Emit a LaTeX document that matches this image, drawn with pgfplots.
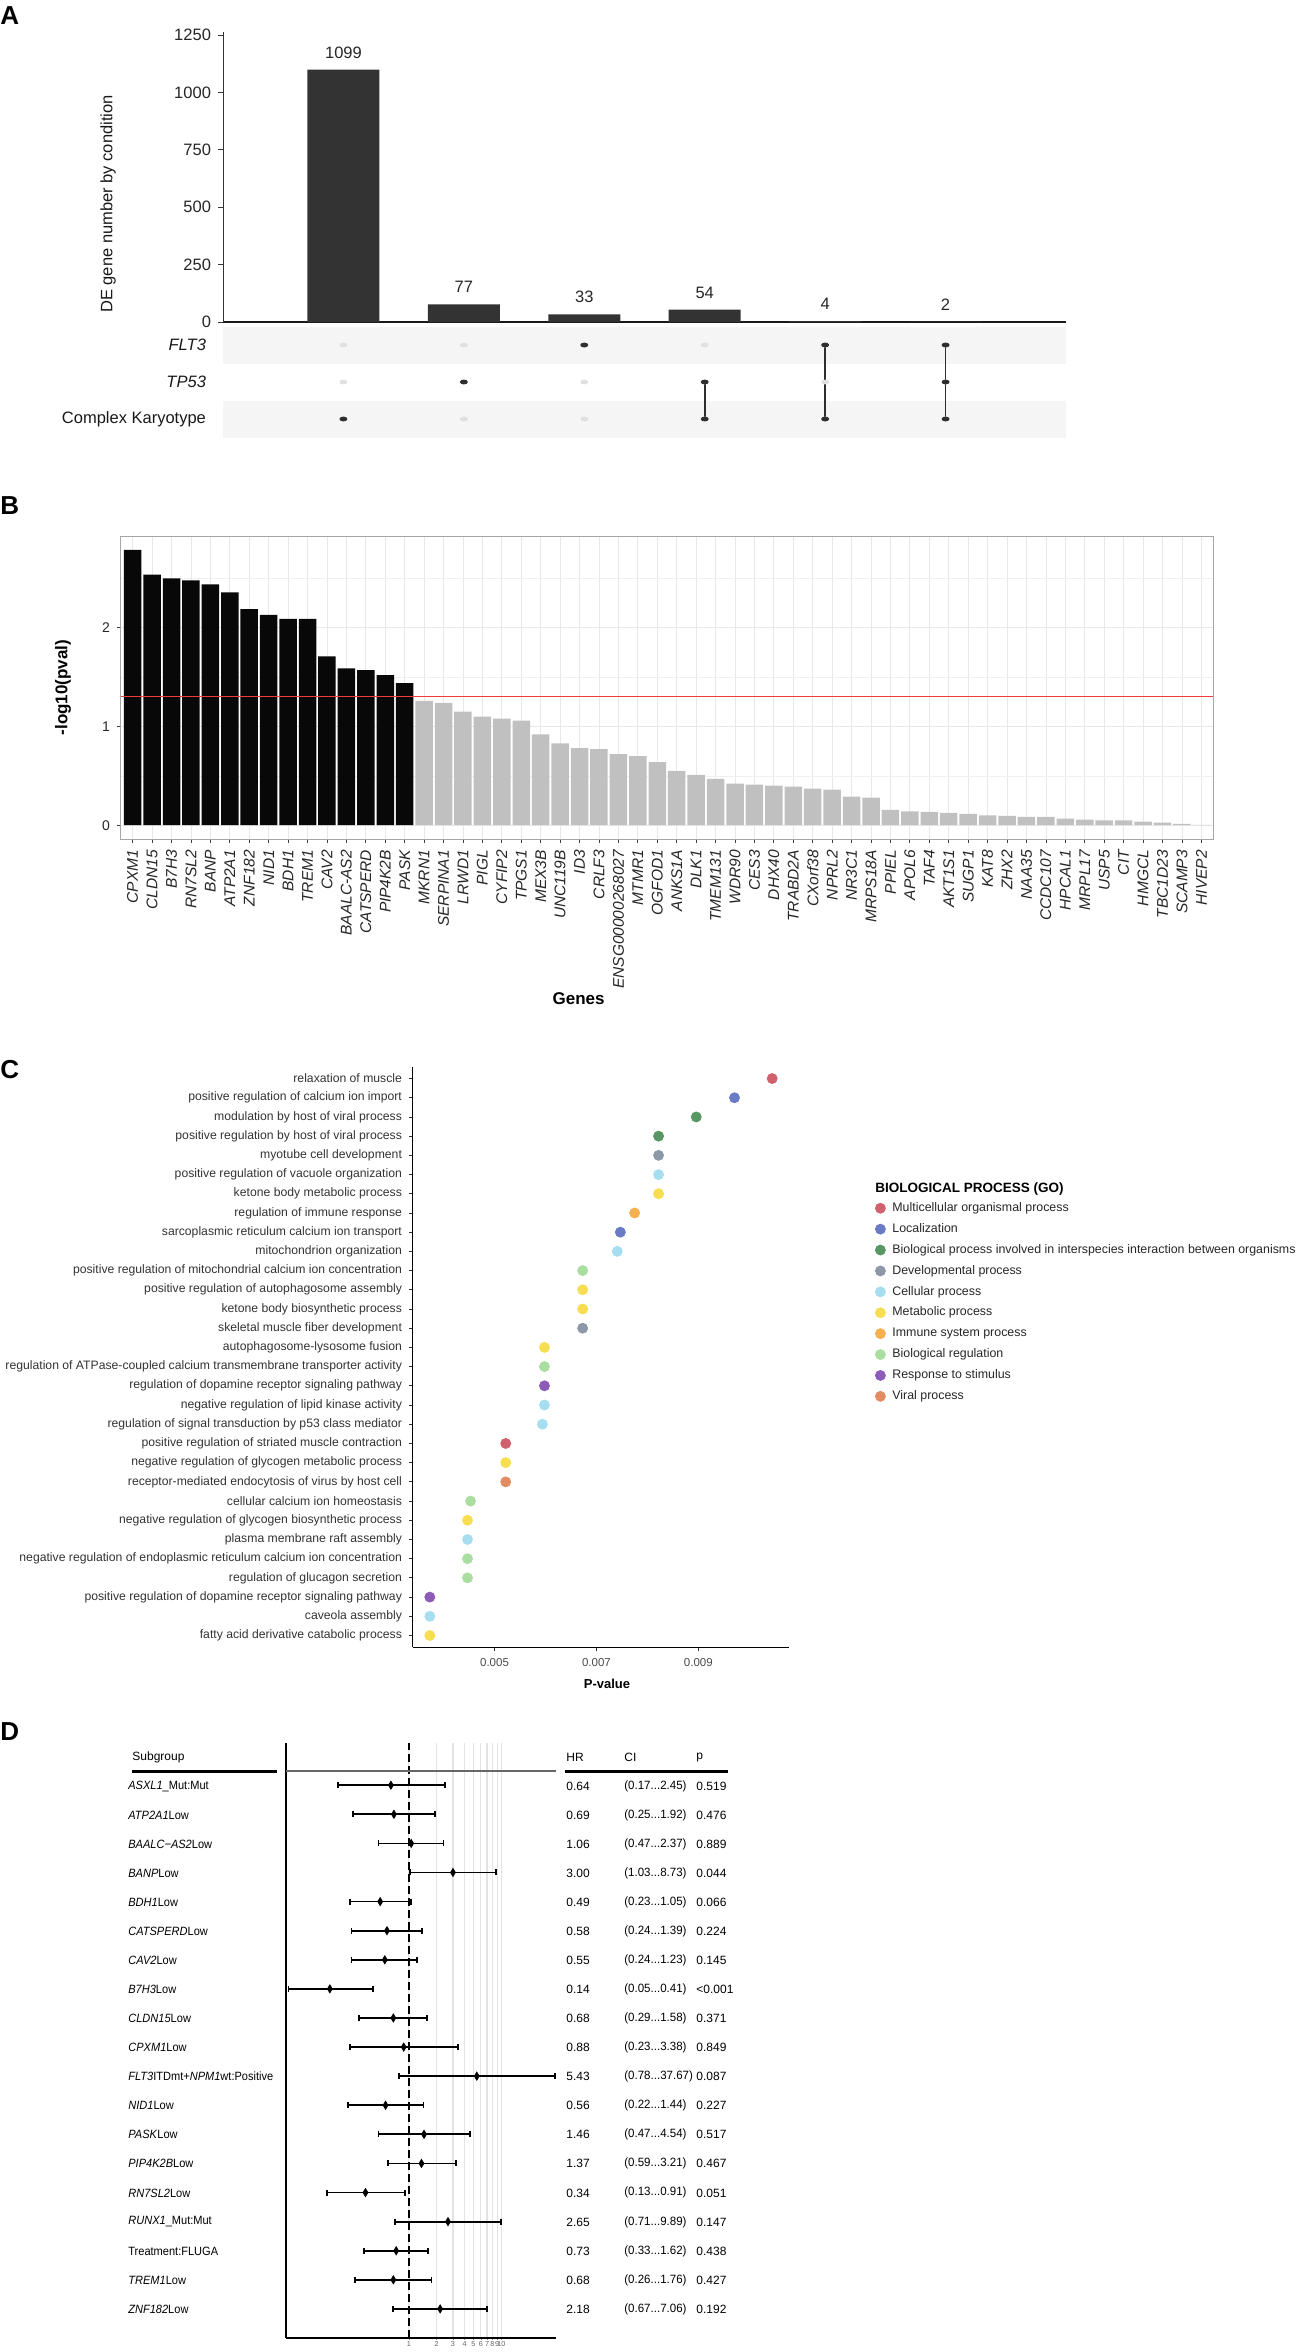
\documentclass[border=0pt]{standalone}
\usepackage{pgfplots}
\pgfplotsset{compat=1.18}
\usepackage{fontspec}
\setmainfont{Liberation Sans}
\newcommand{\fs}[1]{\fontsize{#1pt}{#1pt}\selectfont}
\newcommand{\dd}{...}

\definecolor{barA}{HTML}{333333}
\definecolor{bandgray}{HTML}{F5F5F5}
\definecolor{dotgray}{HTML}{E0E0E0}
\definecolor{dotdark}{HTML}{2E2E2E}
\definecolor{barGrey}{HTML}{C0C0C0}
\definecolor{redline}{HTML}{F03C3C}
\definecolor{cMulti}{RGB}{208,98,110}
\definecolor{cLoc}{RGB}{106,122,196}
\definecolor{cInter}{RGB}{88,150,100}
\definecolor{cDev}{RGB}{140,152,168}
\definecolor{cCell}{RGB}{166,222,240}
\definecolor{cMetab}{RGB}{246,222,80}
\definecolor{cImm}{RGB}{246,176,80}
\definecolor{cBioReg}{RGB}{170,222,160}
\definecolor{cResp}{RGB}{140,92,184}
\definecolor{cViral}{RGB}{226,140,100}

\begin{document}
\begin{tikzpicture}
\path[use as bounding box] (0,0) rectangle (650pt,-1176pt);

% ---- A: bar part of the upset plot
\begin{axis}[
  at={(111.5pt,-161pt)}, anchor=south west, scale only axis,
  width=421.5pt, height=145pt,
  xmin=0, xmax=7, ymin=0, ymax=1263,
  axis x line=bottom, axis y line=left, axis line style={-},
  x axis line style={line width=1pt, black!90},
  y axis line style={line width=0.4pt, black!80},
  xtick=\empty, ytick={0,250,500,750,1000,1250},
  tick align=outside, major tick length=2.5pt,
  tick style={black!80, line width=0.4pt},
  ticklabel style={font=\fs{8.25}, text=black!85},
  /pgf/number format/assume math mode=true,
  /pgf/number format/1000 sep={},
  ybar, bar width=36pt,
  nodes near coords,
  nodes near coords style={font=\fs{8.25}, text=black!85, inner sep=0pt, anchor=south, yshift=5.5pt},
  clip=false,
]
\addplot[fill=barA, draw=none] coordinates {(1,1099) (2,77) (3,33) (4,54) (5,4) (6,2)};
\end{axis}

% ---- A: matrix part
\begin{axis}[
  at={(111.5pt,-218.75pt)}, anchor=south west, scale only axis,
  width=421.5pt, height=55.5pt,
  xmin=0, xmax=7, ymin=0.5, ymax=3.5,
  axis line style={draw=none},
  xtick=\empty, ytick={1,2,3},
  yticklabels={Complex Karyotype,\textit{TP53},\textit{FLT3}},
  major tick length=0pt,
  yticklabel style={font=\fs{8.25}, text=black!90, xshift=-5pt},
]
\fill[bandgray] (axis cs:0,2.5) rectangle (axis cs:7,3.5);
\fill[bandgray] (axis cs:0,0.5) rectangle (axis cs:7,1.5);
\addplot[dotgray, only marks, mark=*, mark size=1pt, mark options={xscale=1.75, draw=dotgray, fill=dotgray}]
  coordinates {(1,1)(1,2)(1,3)(2,1)(2,2)(2,3)(3,1)(3,2)(3,3)(4,1)(4,2)(4,3)(5,1)(5,2)(5,3)(6,1)(6,2)(6,3)};
\addplot[dotdark, line width=0.8pt, mark=none, unbounded coords=jump]
  coordinates {(4,1)(4,2) (nan,nan) (5,1)(5,3) (nan,nan) (6,1)(6,3)};
\addplot[dotdark, only marks, mark=*, mark size=1pt, mark options={xscale=1.75, draw=dotdark, fill=dotdark}]
  coordinates {(1,1)(2,2)(3,3)(4,1)(4,2)(5,1)(5,3)(6,1)(6,2)(6,3)};
\end{axis}

% ---- B: -log10(pval) per gene
\begin{axis}[
  at={(60.5pt,-419.5pt)}, anchor=south west, scale only axis,
  width=546pt, height=151.5pt,
  xmin=0.4, xmax=56.6, ymin=-0.14, ymax=2.93,
  ybar, bar width=8.75pt,
  axis line style={gray!70, line width=0.5pt},
  xtick={1,...,56},
  xticklabels={CPXM1,CLDN15,B7H3,RN7SL2,BANP,ATP2A1,ZNF182,NID1,BDH1,TREM1,CAV2,BAALC-AS2,CATSPERD,PIP4K2B,PASK,MKRN1,SERPINA1,LRWD1,PIGL,CYFIP2,TPGS1,MEX3B,UNC119B,ID3,CRLF3,ENSG00000268027,MTMR1,OGFOD1,ANKS1A,DLK1,TMEM131,WDR90,CES3,DHX40,TRABD2A,CXorf38,NPRL2,NR3C1,MRPS18A,PPIEL,APOL6,TAF4,AKT1S1,SUGP1,KAT8,ZHX2,NAA35,CCDC107,HPCAL1,MRPL17,USP5,CIT,HMGCL,TBC1D23,SCAMP3,HIVEP2},
  ytick={0,1,2}, minor ytick={0.5,1.5,2.5},
  xmajorgrids, ymajorgrids, yminorgrids,
  major grid style={gray!18, line width=0.4pt},
  minor grid style={gray!12, line width=0.3pt},
  tick align=outside, major tick length=2pt, minor tick length=0pt,
  tick style={black!75, line width=0.4pt},
  xtick pos=left, ytick pos=left,
  xticklabel style={rotate=90, anchor=east, font=\itshape\fs{7.75}, text=black!85},
  yticklabel style={font=\fs{7}, text=black!85},
  /pgf/number format/assume math mode=true,
  ylabel={\textbf{-log10(pval)}},
  ylabel style={font=\fs{8.5}, at={(axis description cs:-0.053,0.5)}, anchor=center},
  xlabel={\textbf{Genes}},
  xlabel style={font=\fs{8.5}, at={(axis description cs:0.419,-0.528)}, anchor=center},
]
\addplot[fill=black!97, draw=none, bar shift=0pt] coordinates {
  (1,2.79) (2,2.54) (3,2.50) (4,2.48) (5,2.44) (6,2.36) (7,2.19) (8,2.13)
  (9,2.09) (10,2.09) (11,1.71) (12,1.59) (13,1.57) (14,1.52) (15,1.44)};
\addplot[fill=barGrey, draw=none, bar shift=0pt] coordinates {
  (16,1.26) (17,1.24) (18,1.15) (19,1.10) (20,1.08) (21,1.06) (22,0.92) (23,0.83)
  (24,0.78) (25,0.77) (26,0.72) (27,0.70) (28,0.64) (29,0.55) (30,0.51) (31,0.47)
  (32,0.42) (33,0.41) (34,0.40) (35,0.39) (36,0.37) (37,0.36) (38,0.29) (39,0.28)
  (40,0.155) (41,0.14) (42,0.135) (43,0.125) (44,0.115) (45,0.10) (46,0.094) (47,0.084)
  (48,0.084) (49,0.067) (50,0.057) (51,0.05) (52,0.05) (53,0.037) (54,0.027) (55,0.013)
  (56,0.003)};
\addplot[sharp plot, draw=redline, line width=0.5pt] coordinates {(0.4,1.301) (56.6,1.301)};
\end{axis}

% ---- C: GO biological process dot plot
\begin{axis}[
  at={(206.5pt,-823.5pt)}, anchor=south west, scale only axis,
  width=188pt, height=290pt,
  xmin=0.0034, xmax=0.01078, ymin=0.4, ymax=30.6,
  axis x line=bottom, axis y line=left, axis line style={-, line width=0.5pt, black},
  scaled x ticks=false,
  xtick={0.005,0.007,0.009}, xticklabels={0.005,0.007,0.009},
  ytick={1,...,30},
  yticklabels={fatty acid derivative catabolic process,caveola assembly,positive regulation of dopamine receptor signaling pathway,regulation of glucagon secretion,negative regulation of endoplasmic reticulum calcium ion concentration,plasma membrane raft assembly,negative regulation of glycogen biosynthetic process,cellular calcium ion homeostasis,receptor-mediated endocytosis of virus by host cell,negative regulation of glycogen metabolic process,positive regulation of striated muscle contraction,regulation of signal transduction by p53 class mediator,negative regulation of lipid kinase activity,regulation of dopamine receptor signaling pathway,regulation of ATPase-coupled calcium transmembrane transporter activity,autophagosome-lysosome fusion,skeletal muscle fiber development,ketone body biosynthetic process,positive regulation of autophagosome assembly,positive regulation of mitochondrial calcium ion concentration,mitochondrion organization,sarcoplasmic reticulum calcium ion transport,regulation of immune response,ketone body metabolic process,positive regulation of vacuole organization,myotube cell development,positive regulation by host of viral process,modulation by host of viral process,positive regulation of calcium ion import,relaxation of muscle},
  tick align=outside, major tick length=2pt,
  tick style={black!80, line width=0.4pt},
  xticklabel style={font=\fs{5.75}, text=black!70},
  yticklabel style={font=\fs{6.1}, text=black!80},
  xlabel={\textbf{P-value}},
  xlabel style={font=\fs{6.5}, at={(axis description cs:0.516,-0.064)}, anchor=center},
  legend style={at={(axis description cs:1.2287,0.7672)}, anchor=north west,
    draw=none, fill=none, inner sep=0pt, font=\fs{6.2}, text=black!85, row sep=4.65pt, column sep=3.5pt,
    nodes={inner sep=0pt, text height=4.5pt, text depth=1.3pt}},
  legend cell align=left,
  legend image code/.code={\draw[#1] plot coordinates {(2.5pt,0pt)};},
]
\addplot[cMulti, only marks, mark=*, mark size=2.5pt] coordinates {(0.01045,30) (0.00522,11)};
\addlegendentry{Multicellular organismal process}
\addplot[cLoc, only marks, mark=*, mark size=2.5pt] coordinates {(0.00971,29) (0.00747,22)};
\addlegendentry{Localization}
\addplot[cInter, only marks, mark=*, mark size=2.5pt] coordinates {(0.00896,28) (0.00822,27)};
\addlegendentry{Biological process involved in interspecies interaction between organisms}
\addplot[cDev, only marks, mark=*, mark size=2.5pt] coordinates {(0.00822,26) (0.00673,17)};
\addlegendentry{Developmental process}
\addplot[cCell, only marks, mark=*, mark size=2.5pt] coordinates {(0.00822,25) (0.00741,21) (0.00598,13) (0.00594,12) (0.00447,6) (0.00373,2)};
\addlegendentry{Cellular process}
\addplot[cMetab, only marks, mark=*, mark size=2.5pt] coordinates {(0.00822,24) (0.00673,19) (0.00673,18) (0.00598,16) (0.00522,10) (0.00447,7) (0.00373,1)};
\addlegendentry{Metabolic process}
\addplot[cImm, only marks, mark=*, mark size=2.5pt] coordinates {(0.00775,23)};
\addlegendentry{Immune system process}
\addplot[cBioReg, only marks, mark=*, mark size=2.5pt] coordinates {(0.00673,20) (0.00598,15) (0.00453,8) (0.00447,5) (0.00447,4)};
\addlegendentry{Biological regulation}
\addplot[cResp, only marks, mark=*, mark size=2.5pt] coordinates {(0.00598,14) (0.00373,3)};
\addlegendentry{Response to stimulus}
\addplot[cViral, only marks, mark=*, mark size=2.5pt] coordinates {(0.00522,9)};
\addlegendentry{Viral process}
\end{axis}

% ---- D: forest plot of hazard ratios
\begin{axis}[
  at={(143pt,-1169pt)}, anchor=south west, scale only axis,
  width=135pt, height=297.5pt,
  xmode=log, xmin=0.047, xmax=39, ymin=0, ymax=20.45,
  axis x line=bottom, axis y line=left, axis line style={-, line width=0.8pt, black},
  xtick={1,2,3,4,5,6,7,8,9,10}, xticklabels={1,2,3,4,5,6,7,8,9,10},
  minor xtick={}, ytick=\empty,
  xmajorgrids, major grid style={gray!22, line width=0.6pt},
  tick align=outside, major tick length=1pt,
  tick style={gray, line width=0.3pt},
  xticklabel style={font=\fs{3.6}, text=gray!80!black, inner sep=0.5pt},
  clip=false,
]
\addplot[black, line width=0.7pt, dash pattern=on 4pt off 2pt] coordinates {(1,0) (1,20.45)};
\addplot[black, line width=0.9pt, mark=|, mark size=1.5pt, unbounded coords=jump] coordinates {
  (0.17,19) (2.45,19) (nan,nan) (0.25,18) (1.92,18) (nan,nan)
  (0.47,17) (2.37,17) (nan,nan) (1.03,16) (8.73,16) (nan,nan)
  (0.23,15) (1.05,15) (nan,nan) (0.24,14) (1.39,14) (nan,nan)
  (0.24,13) (1.23,13) (nan,nan) (0.05,12) (0.41,12) (nan,nan)
  (0.29,11) (1.58,11) (nan,nan) (0.23,10) (3.38,10) (nan,nan)
  (0.78,9) (37.67,9) (nan,nan) (0.22,8) (1.44,8) (nan,nan)
  (0.47,7) (4.54,7) (nan,nan) (0.59,6) (3.21,6) (nan,nan)
  (0.13,5) (0.91,5) (nan,nan) (0.71,4) (9.89,4) (nan,nan)
  (0.33,3) (1.62,3) (nan,nan) (0.26,2) (1.76,2) (nan,nan)
  (0.67,1) (7.06,1)};
\addplot[black, only marks, mark=diamond*, mark size=2pt, mark options={xscale=0.8}] coordinates {
  (0.64,19) (0.69,18) (1.06,17) (3.00,16) (0.49,15) (0.58,14) (0.55,13) (0.14,12)
  (0.68,11) (0.88,10) (5.43,9) (0.56,8) (1.46,7) (1.37,6) (0.34,5) (2.65,4)
  (0.73,3) (0.68,2) (2.18,1)};
\end{axis}

% ---- texts placed in pixel units
\begin{scope}[x=0.5pt, y=-0.5pt]
\node[anchor=west, inner sep=0pt, font=\bfseries\fs{13}] at (0,16) {A};
\node[anchor=west, inner sep=0pt, font=\bfseries\fs{13}] at (0,506) {B};
\node[anchor=west, inner sep=0pt, font=\bfseries\fs{13}] at (0,1070) {C};
\node[anchor=west, inner sep=0pt, font=\bfseries\fs{13}] at (0,1732) {D};
\node[rotate=90, font=\fs{8.25}, text=black!90] at (108,204) {DE gene number by condition};
\node[anchor=west, inner sep=0pt, font=\bfseries\fs{6.75}] at (875,1189) {BIOLOGICAL PROCESS (GO)};

\node[anchor=west, inner sep=0pt, font=\fs{6}] at (132,1757) {Subgroup};
\node[anchor=west, inner sep=0pt, font=\fs{6}] at (566,1757) {HR};
\node[anchor=west, inner sep=0pt, font=\fs{6}] at (624,1757) {CI};
\node[anchor=west, inner sep=0pt, font=\fs{6}] at (696,1757) {p};
\draw[line width=1.5pt] (132,1771) -- (277,1771);
\draw[line width=1.5pt] (565,1771) -- (728,1771);
\draw[line width=1.2pt, black!60] (286,1771) -- (556,1771);

\foreach \lab/\hr/\ci/\pv [count=\i from 0] in {
  {\textit{ASXL1}\_Mut:Mut}/0.64/(0.17\dd 2.45)/0.519,
  {\textit{ATP2A1}Low}/0.69/(0.25\dd 1.92)/0.476,
  {\textit{BAALC−AS2}Low}/1.06/(0.47\dd 2.37)/0.889,
  {\textit{BANP}Low}/3.00/(1.03\dd 8.73)/0.044,
  {\textit{BDH1}Low}/0.49/(0.23\dd 1.05)/0.066,
  {\textit{CATSPERD}Low}/0.58/(0.24\dd 1.39)/0.224,
  {\textit{CAV2}Low}/0.55/(0.24\dd 1.23)/0.145,
  {\textit{B7H3}Low}/0.14/(0.05\dd 0.41)/<0.001,
  {\textit{CLDN15}Low}/0.68/(0.29\dd 1.58)/0.371,
  {\textit{CPXM1}Low}/0.88/(0.23\dd 3.38)/0.849,
  {\textit{FLT3}ITDmt+\textit{NPM1}wt:Positive}/5.43/(0.78\dd 37.67)/0.087,
  {\textit{NID1}Low}/0.56/(0.22\dd 1.44)/0.227,
  {\textit{PASK}Low}/1.46/(0.47\dd 4.54)/0.517,
  {\textit{PIP4K2B}Low}/1.37/(0.59\dd 3.21)/0.467,
  {\textit{RN7SL2}Low}/0.34/(0.13\dd 0.91)/0.051,
  {\textit{RUNX1}\_Mut:Mut}/2.65/(0.71\dd 9.89)/0.147,
  {Treatment:FLUGA}/0.73/(0.33\dd 1.62)/0.438,
  {\textit{TREM1}Low}/0.68/(0.26\dd 1.76)/0.427,
  {\textit{ZNF182}Low}/2.18/(0.67\dd 7.06)/0.192}{
  \node[anchor=west, inner sep=0pt, font=\fs{6}, xscale=0.92] at (128,{1786+29.06*\i}) {\lab};
  \node[anchor=west, inner sep=0pt, font=\fs{6}] at (566,{1786+29.06*\i}) {\hr};
  \node[anchor=west, inner sep=0pt, font=\fs{6}, xscale=0.96] at (624,{1786+29.06*\i}) {\ci};
  \node[anchor=west, inner sep=0pt, font=\fs{6}] at (696,{1786+29.06*\i}) {\pv};
}
\end{scope}
\end{tikzpicture}
\end{document}
